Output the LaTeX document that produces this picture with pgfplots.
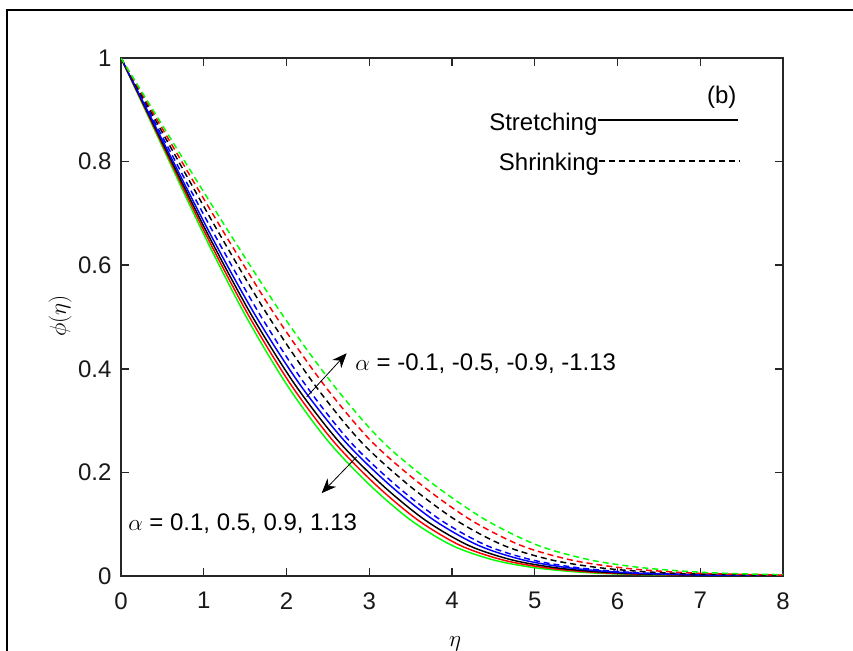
\documentclass[border=0pt]{standalone}
\usepackage{pgfplots}
\pgfplotsset{compat=1.18}
\usepackage{pgfplotstable}
\usepackage{fontspec}
\setmainfont{Liberation Sans}
\usetikzlibrary{arrows.meta}

% columns: g = phi value; x1..x4 solid (green, red, black, blue); x5..x8 dashed (blue, black, red, green)
\pgfplotstableread{
g      x1   x2     x3    x4    x5    x6    x7    x8
1.0000 0    0      0     0     0     0     0     0
0.8288 0.5  0.5125 0.525 0.54  0.564 0.596 0.628 0.66
0.6597 1    1.025  1.05  1.08  1.128 1.192 1.256 1.32
0.5042 1.5  1.5375 1.575 1.62  1.68  1.77  1.86  1.95
0.3701 2    2.05   2.1   2.16  2.224 2.336 2.448 2.56
0.2609 2.5  2.5625 2.625 2.7   2.76  2.89  3.02  3.15
0.1766 3    3.075  3.15  3.24  3.312 3.468 3.624 3.78
0.1080 3.5  3.5875 3.675 3.78  3.864 4.046 4.228 4.41
0.0590 4    4.1    4.2   4.32  4.416 4.624 4.832 5.04
0.0310 4.5  4.6125 4.725 4.86  4.968 5.202 5.436 5.67
0.0160 5    5.125  5.25  5.4   5.52  5.78  6.04  6.3
0.0080 5.5  5.6375 5.775 5.94  6.072 6.358 6.644 6.93
0.0040 6    6.15   6.3   6.48  6.624 6.936 7.248 7.56
0.0008 7    7.175  7.35  7.56  7.728 8.092 8.456 8.82
0.0001 8    8.2    8.4   8.64  8.832 9.248 9.664 10.08
}\phidata

\begin{document}
\fontsize{18}{21}\selectfont
\begin{tikzpicture}
\useasboundingbox (0pt,0pt) rectangle (639.75pt,487.5pt);
\clip (0pt,0pt) rectangle (639.75pt,487.5pt);
\fill[white] (0pt,0pt) rectangle (639.75pt,487.5pt);
\draw[line width=1.4pt] (5.25pt,-10pt) -- (5.25pt,480pt) -- (660pt,480pt);
\begin{axis}[
  at={(90.75pt,55.5pt)}, anchor=south west,
  scale only axis, width=496.5pt, height=388.5pt,
  xmin=0, xmax=8, ymin=0, ymax=1,
  xtick={0,1,2,3,4,5,6,7,8},
  ytick={0,0.2,0.4,0.6,0.8,1},
  tick align=inside, xtick pos=both, ytick pos=both,
  xticklabel pos=bottom, yticklabel pos=left,
  major tick length=6pt,
  axis line style={line width=1.1pt, black!85},
  every tick/.style={line width=1.1pt, black!85},
  tick label style={font=\fontsize{18}{21}\selectfont, black!90},
  /pgf/number format/assume math mode=true,
  xticklabel style={yshift=-6pt},
  yticklabel style={xshift=-1pt},
  clip=true,
]
\addplot[green, line width=1.1pt, smooth] table[x=x1,y=g]{\phidata};
\addplot[red, line width=1.1pt, smooth] table[x=x2,y=g]{\phidata};
\addplot[black, line width=1.1pt, smooth] table[x=x3,y=g]{\phidata};
\addplot[blue, line width=1.1pt, smooth] table[x=x4,y=g]{\phidata};
\addplot[blue, line width=1.1pt, smooth, dash pattern=on 4.5pt off 3pt] table[x=x5,y=g]{\phidata};
\addplot[black, line width=1.1pt, smooth, dash pattern=on 4.5pt off 3pt] table[x=x6,y=g]{\phidata};
\addplot[red, line width=1.1pt, smooth, dash pattern=on 4.5pt off 3pt] table[x=x7,y=g]{\phidata};
\addplot[green, line width=1.1pt, smooth, dash pattern=on 4.5pt off 3pt] table[x=x8,y=g]{\phidata};
\end{axis}
\begin{axis}[
  at={(90.75pt,55.5pt)}, anchor=south west,
  scale only axis, width=496.5pt, height=388.5pt,
  xmin=0, xmax=8, ymin=0, ymax=1,
  hide axis, clip=false,
]
\node[font=\fontsize{18}{21}\selectfont] at (axis cs:7.26,0.925) {(b)};
\draw[black, line width=1pt] (axis cs:5.76,0.880) -- (axis cs:7.46,0.880);
\node[anchor=base east, inner sep=0pt, yshift=-8pt, font=\fontsize{18}{21}\selectfont] at (axis cs:5.76,0.880) {Stretching};
\draw[black, line width=1pt, dash pattern=on 4.5pt off 3pt] (axis cs:5.78,0.801) -- (axis cs:7.48,0.801);
\node[anchor=base east, inner sep=0pt, yshift=-7pt, font=\fontsize{18}{21}\selectfont] at (axis cs:5.78,0.801) {Shrinking};
\node[anchor=base west, inner sep=0pt, font=\fontsize{18}{21}\selectfont] at (axis cs:2.83,0.396) {$\alpha$ = -0.1, -0.5, -0.9, -1.13};
\node[anchor=base west, inner sep=0pt, font=\fontsize{18}{21}\selectfont] at (axis cs:0.085,0.087) {$\alpha$ = 0.1, 0.5, 0.9, 1.13};
\draw[black, line width=0.6pt, -{Stealth[length=11pt,width=9pt]}] (axis cs:2.245,0.346) -- (axis cs:2.727,0.430);
\draw[black, line width=0.6pt, -{Stealth[length=11pt,width=9pt]}] (axis cs:2.848,0.230) -- (axis cs:2.425,0.160);
\end{axis}
\node[rotate=90, font=\fontsize{18}{21}\selectfont] at (45pt,250.5pt) {$\phi(\eta)$};
\node[font=\fontsize{18}{21}\selectfont] at (341.25pt,4.5pt) {$\eta$};
\end{tikzpicture}
\end{document}
